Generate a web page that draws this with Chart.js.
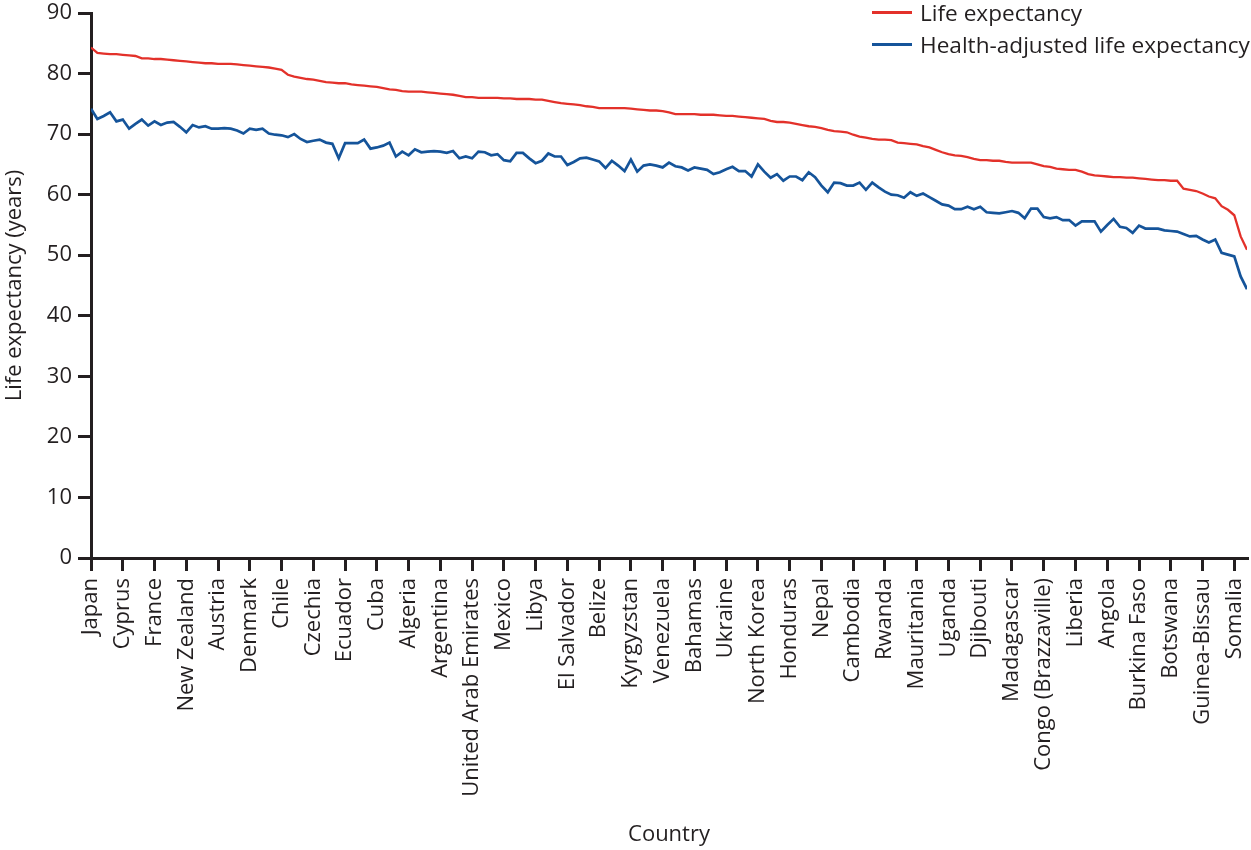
<!DOCTYPE html>
<html>
<head>
<meta charset="utf-8">
<script src="https://cdn.jsdelivr.net/npm/chart.js@4.4.1/dist/chart.umd.min.js"></script>
<style>
  body { margin: 0; background: #fff; }
  #wrap { position: relative; width: 1251px; height: 850px; }
  #legend { position: absolute; left: 872px; top: -4px; font-family: 'Open Sans'; font-size: 22.6px; color: #231f20; }
  .item { display: flex; align-items: center; height: 32px; white-space: nowrap; }
  .swatch { width: 40px; height: 3px; margin-right: 8px; }
</style>
</head>
<body>
<div id="wrap">
  <canvas id="grafico" width="1251" height="850"></canvas>
  <div id="legend"></div>
</div>
<script>
// country names shown on the x axis, and their position in the ranking
const tickLabels = ['Japan', 'Cyprus', 'France', 'New Zealand', 'Austria', 'Denmark', 'Chile', 'Czechia',
  'Ecuador', 'Cuba', 'Algeria', 'Argentina', 'United Arab Emirates', 'Mexico', 'Libya', 'El Salvador',
  'Belize', 'Kyrgyzstan', 'Venezuela', 'Bahamas', 'Ukraine', 'North Korea', 'Honduras', 'Nepal',
  'Cambodia', 'Rwanda', 'Mauritania', 'Uganda', 'Djibouti', 'Madagascar', 'Congo (Brazzaville)',
  'Liberia', 'Angola', 'Burkina Faso', 'Botswana', 'Guinea-Bissau', 'Somalia'];
const tickIndex = [0, 5, 10, 15, 20, 25, 30, 35, 40, 45, 50, 55, 60, 65, 70, 75, 80, 85, 90, 95,
  100, 105, 110, 115, 120, 125, 130, 135, 140, 145, 150, 155, 160, 165, 170, 175, 180];

// life expectancy, one value per country (sorted)
const lifeExpectancy = [
  84.3, 83.4, 83.3, 83.2, 83.2, 83.1, 83.0, 82.9, 82.5, 82.5,
  82.4, 82.4, 82.3, 82.2, 82.1, 82.0, 81.9, 81.8, 81.7, 81.7,
  81.6, 81.6, 81.6, 81.5, 81.4, 81.3, 81.2, 81.1, 81.0, 80.8,
  80.6, 79.8, 79.5, 79.3, 79.1, 79.0, 78.8, 78.6, 78.5, 78.4,
  78.4, 78.2, 78.1, 78.0, 77.9, 77.8, 77.6, 77.4, 77.3, 77.1,
  77.0, 77.0, 77.0, 76.9, 76.8, 76.7, 76.6, 76.5, 76.3, 76.1,
  76.1, 76.0, 76.0, 76.0, 76.0, 75.9, 75.9, 75.8, 75.8, 75.8,
  75.7, 75.7, 75.5, 75.3, 75.1, 75.0, 74.9, 74.8, 74.6, 74.5,
  74.3, 74.3, 74.3, 74.3, 74.3, 74.2, 74.1, 74.0, 73.9, 73.9,
  73.8, 73.6, 73.3, 73.3, 73.3, 73.3, 73.2, 73.2, 73.2, 73.1,
  73.0, 73.0, 72.9, 72.8, 72.7, 72.6, 72.5, 72.2, 72.0, 72.0,
  71.9, 71.7, 71.5, 71.3, 71.2, 71.0, 70.7, 70.5, 70.4, 70.3,
  69.9, 69.6, 69.4, 69.2, 69.1, 69.1, 69.0, 68.6, 68.5, 68.4,
  68.3, 68.0, 67.8, 67.4, 67.0, 66.7, 66.5, 66.4, 66.2, 65.9,
  65.7, 65.7, 65.6, 65.6, 65.4, 65.3, 65.3, 65.3, 65.3, 65.0,
  64.7, 64.6, 64.3, 64.2, 64.1, 64.1, 63.8, 63.4, 63.2, 63.1,
  63.0, 62.9, 62.9, 62.8, 62.8, 62.7, 62.6, 62.5, 62.4, 62.4,
  62.3, 62.3, 61.0, 60.8, 60.6, 60.2, 59.7, 59.4, 58.1, 57.5,
  56.6, 53.1, 50.9
];

// health-adjusted life expectancy, same country order
const healthAdjusted = [
  74.2, 72.5, 73.0, 73.6, 72.1, 72.4, 70.9, 71.7, 72.4, 71.4,
  72.1, 71.5, 71.9, 72.0, 71.2, 70.3, 71.5, 71.1, 71.3, 70.9,
  70.9, 71.0, 70.9, 70.6, 70.1, 70.9, 70.7, 70.9, 70.1, 69.9,
  69.8, 69.5, 70.0, 69.2, 68.7, 68.9, 69.1, 68.6, 68.4, 66.0,
  68.5, 68.5, 68.5, 69.1, 67.6, 67.8, 68.1, 68.6, 66.3, 67.1,
  66.5, 67.5, 67.0, 67.1, 67.2, 67.1, 66.9, 67.2, 66.0, 66.3,
  66.0, 67.1, 67.0, 66.5, 66.7, 65.7, 65.5, 66.9, 66.9, 66.0,
  65.2, 65.6, 66.8, 66.3, 66.3, 64.9, 65.4, 66.0, 66.1, 65.8,
  65.5, 64.4, 65.6, 64.8, 63.9, 65.8, 63.8, 64.8, 65.0, 64.8,
  64.5, 65.3, 64.7, 64.5, 64.0, 64.5, 64.3, 64.1, 63.4, 63.7,
  64.2, 64.6, 63.9, 63.9, 63.0, 65.0, 63.8, 62.8, 63.4, 62.3,
  63.0, 63.0, 62.4, 63.7, 62.9, 61.5, 60.4, 62.0, 61.9, 61.5,
  61.5, 62.0, 60.8, 62.0, 61.2, 60.5, 60.0, 59.9, 59.5, 60.4,
  59.8, 60.2, 59.6, 59.0, 58.4, 58.2, 57.6, 57.6, 58.0, 57.6,
  58.0, 57.1, 57.0, 56.9, 57.1, 57.3, 57.0, 56.1, 57.7, 57.7,
  56.3, 56.1, 56.3, 55.8, 55.8, 54.9, 55.6, 55.6, 55.6, 53.9,
  55.0, 56.0, 54.7, 54.5, 53.7, 54.9, 54.4, 54.4, 54.4, 54.1,
  54.0, 53.9, 53.5, 53.1, 53.2, 52.6, 52.1, 52.6, 50.4, 50.1,
  49.8, 46.5, 44.4
];

const yTicks = [0, 10, 20, 30, 40, 50, 60, 70, 80, 90];

const tinta = '#231f20';
const fuente = { family: 'Open Sans', size: 22 };

const series = [
  { label: 'Life expectancy', values: lifeExpectancy, color: '#e3312a', width: 2.3 },
  { label: 'Health-adjusted life expectancy', values: healthAdjusted, color: '#15549a', width: 2.7 }
];

const ejeComun = {
  grid: { display: true, drawOnChartArea: false, drawTicks: true, tickLength: 13, lineWidth: 3, color: tinta },
  border: { display: true, width: 3, color: tinta }
};

const data = {
  datasets: series.map(s => ({
    label: s.label,
    data: s.values.map((v, i) => ({ x: i, y: v })),
    borderColor: s.color,
    borderWidth: s.width,
    pointRadius: 0,
    tension: 0,
    fill: false
  }))
};

new Chart(document.querySelector('#grafico'), {
  type: 'line',
  data,
  options: {
    responsive: false,
    animation: false,
    layout: { padding: { top: 13, right: 4, left: 0, bottom: 0 } },
    plugins: { legend: { display: false }, tooltip: { enabled: false } },
    scales: {
      x: {
        type: 'linear',
        min: 0,
        max: lifeExpectancy.length - 1,
        ...ejeComun,
        afterBuildTicks: eje => { eje.ticks = tickIndex.map(value => ({ value })); },
        afterFit: eje => { eje.height = 292; eje.paddingLeft = 0; eje.paddingRight = 0; },
        ticks: {
          autoSkip: false,
          minRotation: 90,
          maxRotation: 90,
          padding: 7,
          color: tinta,
          font: fuente,
          callback: (valor, i) => tickLabels[i]
        },
        title: { display: true, text: 'Country', color: tinta, font: fuente, padding: { top: 0, bottom: 2 } }
      },
      y: {
        min: 0,
        max: 90,
        ...ejeComun,
        afterBuildTicks: eje => { eje.ticks = yTicks.map(value => ({ value })); },
        afterFit: eje => { eje.width = 91; eje.paddingTop = 0; eje.paddingBottom = 0; },
        ticks: { padding: 6, color: tinta, font: fuente },
        title: { display: true, text: 'Life expectancy (years)', color: tinta, font: fuente, padding: { top: 2, bottom: 0 } }
      }
    }
  }
});

// leyenda apilada arriba a la derecha
const leyenda = document.querySelector('#legend');
series.forEach(s => {
  const fila = document.createElement('div');
  fila.className = 'item';
  const linea = document.createElement('span');
  linea.className = 'swatch';
  linea.style.background = s.color;
  const texto = document.createElement('span');
  texto.textContent = s.label;
  fila.appendChild(linea);
  fila.appendChild(texto);
  leyenda.appendChild(fila);
});
</script>
</body>
</html>
